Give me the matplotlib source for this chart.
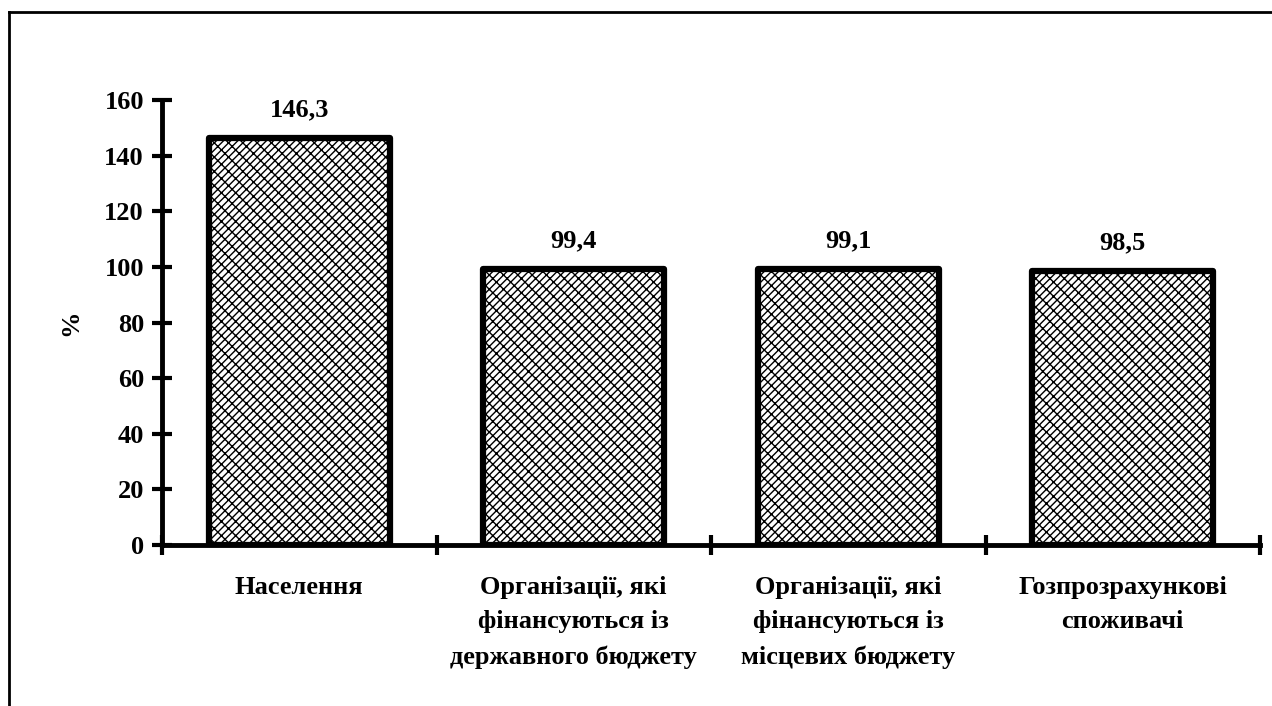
import warnings
import numpy as np
import matplotlib
matplotlib.use("Agg")
import matplotlib.pyplot as plt
import matplotlib.hatch as mhatch
from matplotlib.path import Path
from matplotlib.lines import Line2D
from matplotlib.ticker import FixedLocator, NullFormatter

warnings.filterwarnings("ignore")

categories = ["Населення",
              "Організації, які\nфінансуються із\nдержавного бюджету",
              "Організації, які\nфінансуються із\nмісцевих бюджету",
              "Гозпрозрахункові\nспоживачі"]
values = [146.3, 99.4, 99.1, 98.5]
value_labels = ["146,3", "99,4", "99,1", "98,5"]
y_ticks = [0, 20, 40, 60, 80, 100, 120, 140, 160]
y_label = "%"


class DiagonalBrickHatch(mhatch.HatchPatternBase):
    """Diagonal brick pattern: continuous '/' lines with staggered '\\' joints."""
    N = 14   # '/' lines per tile (horizontal spacing 1/N)
    M = 14   # bricks per tile along x projection

    def __init__(self, hatch, density):
        self.on = 'b' in hatch
        if not self.on:
            self.num_vertices = 0
            return
        n, m = self.N, self.M
        segs = []
        ks = range(-n - 1, n + 2)
        for k in ks:
            c = k / n
            # continuous '/' line y = x + c
            segs.append(((-1.5, -1.5 + c), (2.5, 2.5 + c)))
            # staggered '\' joints to next line
            off = (k % 2) * 0.5 / m
            for j in range(-2 * m, 3 * m):
                t = j / m + off
                p0 = (t, t + c)
                p1 = (t - 1 / (2 * n), t + c + 1 / (2 * n))
                if -0.2 <= p0[0] <= 1.2 and -0.2 <= p0[1] <= 1.2 or \
                   -0.2 <= p1[0] <= 1.2 and -0.2 <= p1[1] <= 1.2:
                    segs.append((p0, p1))
        self.segs = segs
        self.num_vertices = 2 * len(segs)

    def set_vertices_and_codes(self, vertices, codes):
        arr = np.array(self.segs).reshape(-1, 2)
        vertices[:] = arr
        codes[0::2] = Path.MOVETO
        codes[1::2] = Path.LINETO


mhatch._hatch_types.append(DiagonalBrickHatch)

plt.rcParams['font.family'] = ['Liberation Serif', 'DejaVu Serif']
plt.rcParams['font.weight'] = 'bold'
plt.rcParams['hatch.linewidth'] = 1.0
plt.rcParams['hatch.color'] = '#202020'

FS = 19

fig = plt.figure(figsize=(12.72, 7.06), dpi=100)
ax = fig.add_axes([162/1272, 1-545/706, (1260-162)/1272, (545-100)/706])

x = list(range(len(categories)))
bars = ax.bar(x, values, width=0.66, color='white', edgecolor='black',
              linewidth=4.5, hatch='b', zorder=2)
for b in bars:
    b.set_joinstyle('round')

for xi, v, lab in zip(x, values, value_labels):
    ax.annotate(lab, (xi, v), xytext=(0, 12), textcoords='offset points',
                ha='center', va='bottom', fontsize=FS, fontweight='bold')

ax.set_xlim(-0.5, len(categories) - 0.5)
ax.set_ylim(0, 160)
ax.set_yticks(y_ticks)
ax.set_yticklabels([str(t) for t in y_ticks], fontsize=FS, fontweight='bold')
ax.set_xticks(x)
ax.set_xticklabels(categories, fontsize=FS, fontweight='bold', linespacing=1.65)
ax.xaxis.set_minor_locator(FixedLocator([i - 0.5 for i in range(len(categories) + 1)]))
ax.xaxis.set_minor_formatter(NullFormatter())
ax.tick_params(axis='x', which='major', length=0, pad=22)
ax.tick_params(axis='x', which='minor', direction='inout', length=14, width=3)
ax.tick_params(axis='y', direction='inout', length=14, width=3, pad=6)

for s in ['top', 'right']:
    ax.spines[s].set_visible(False)
for s in ['left', 'bottom']:
    ax.spines[s].set_linewidth(3.5)
ax.spines['bottom'].set_zorder(3)

ax.set_ylabel(y_label, fontsize=FS, fontweight='bold', labelpad=16)

# figure frame
fig.add_artist(Line2D([9/1272, 9/1272], [0, 1-12/706], color='black', linewidth=2,
                      transform=fig.transFigure))
fig.add_artist(Line2D([9/1272, 1], [1-12/706, 1-12/706], color='black', linewidth=2,
                      transform=fig.transFigure))

fig.savefig("out.png", dpi=100)
